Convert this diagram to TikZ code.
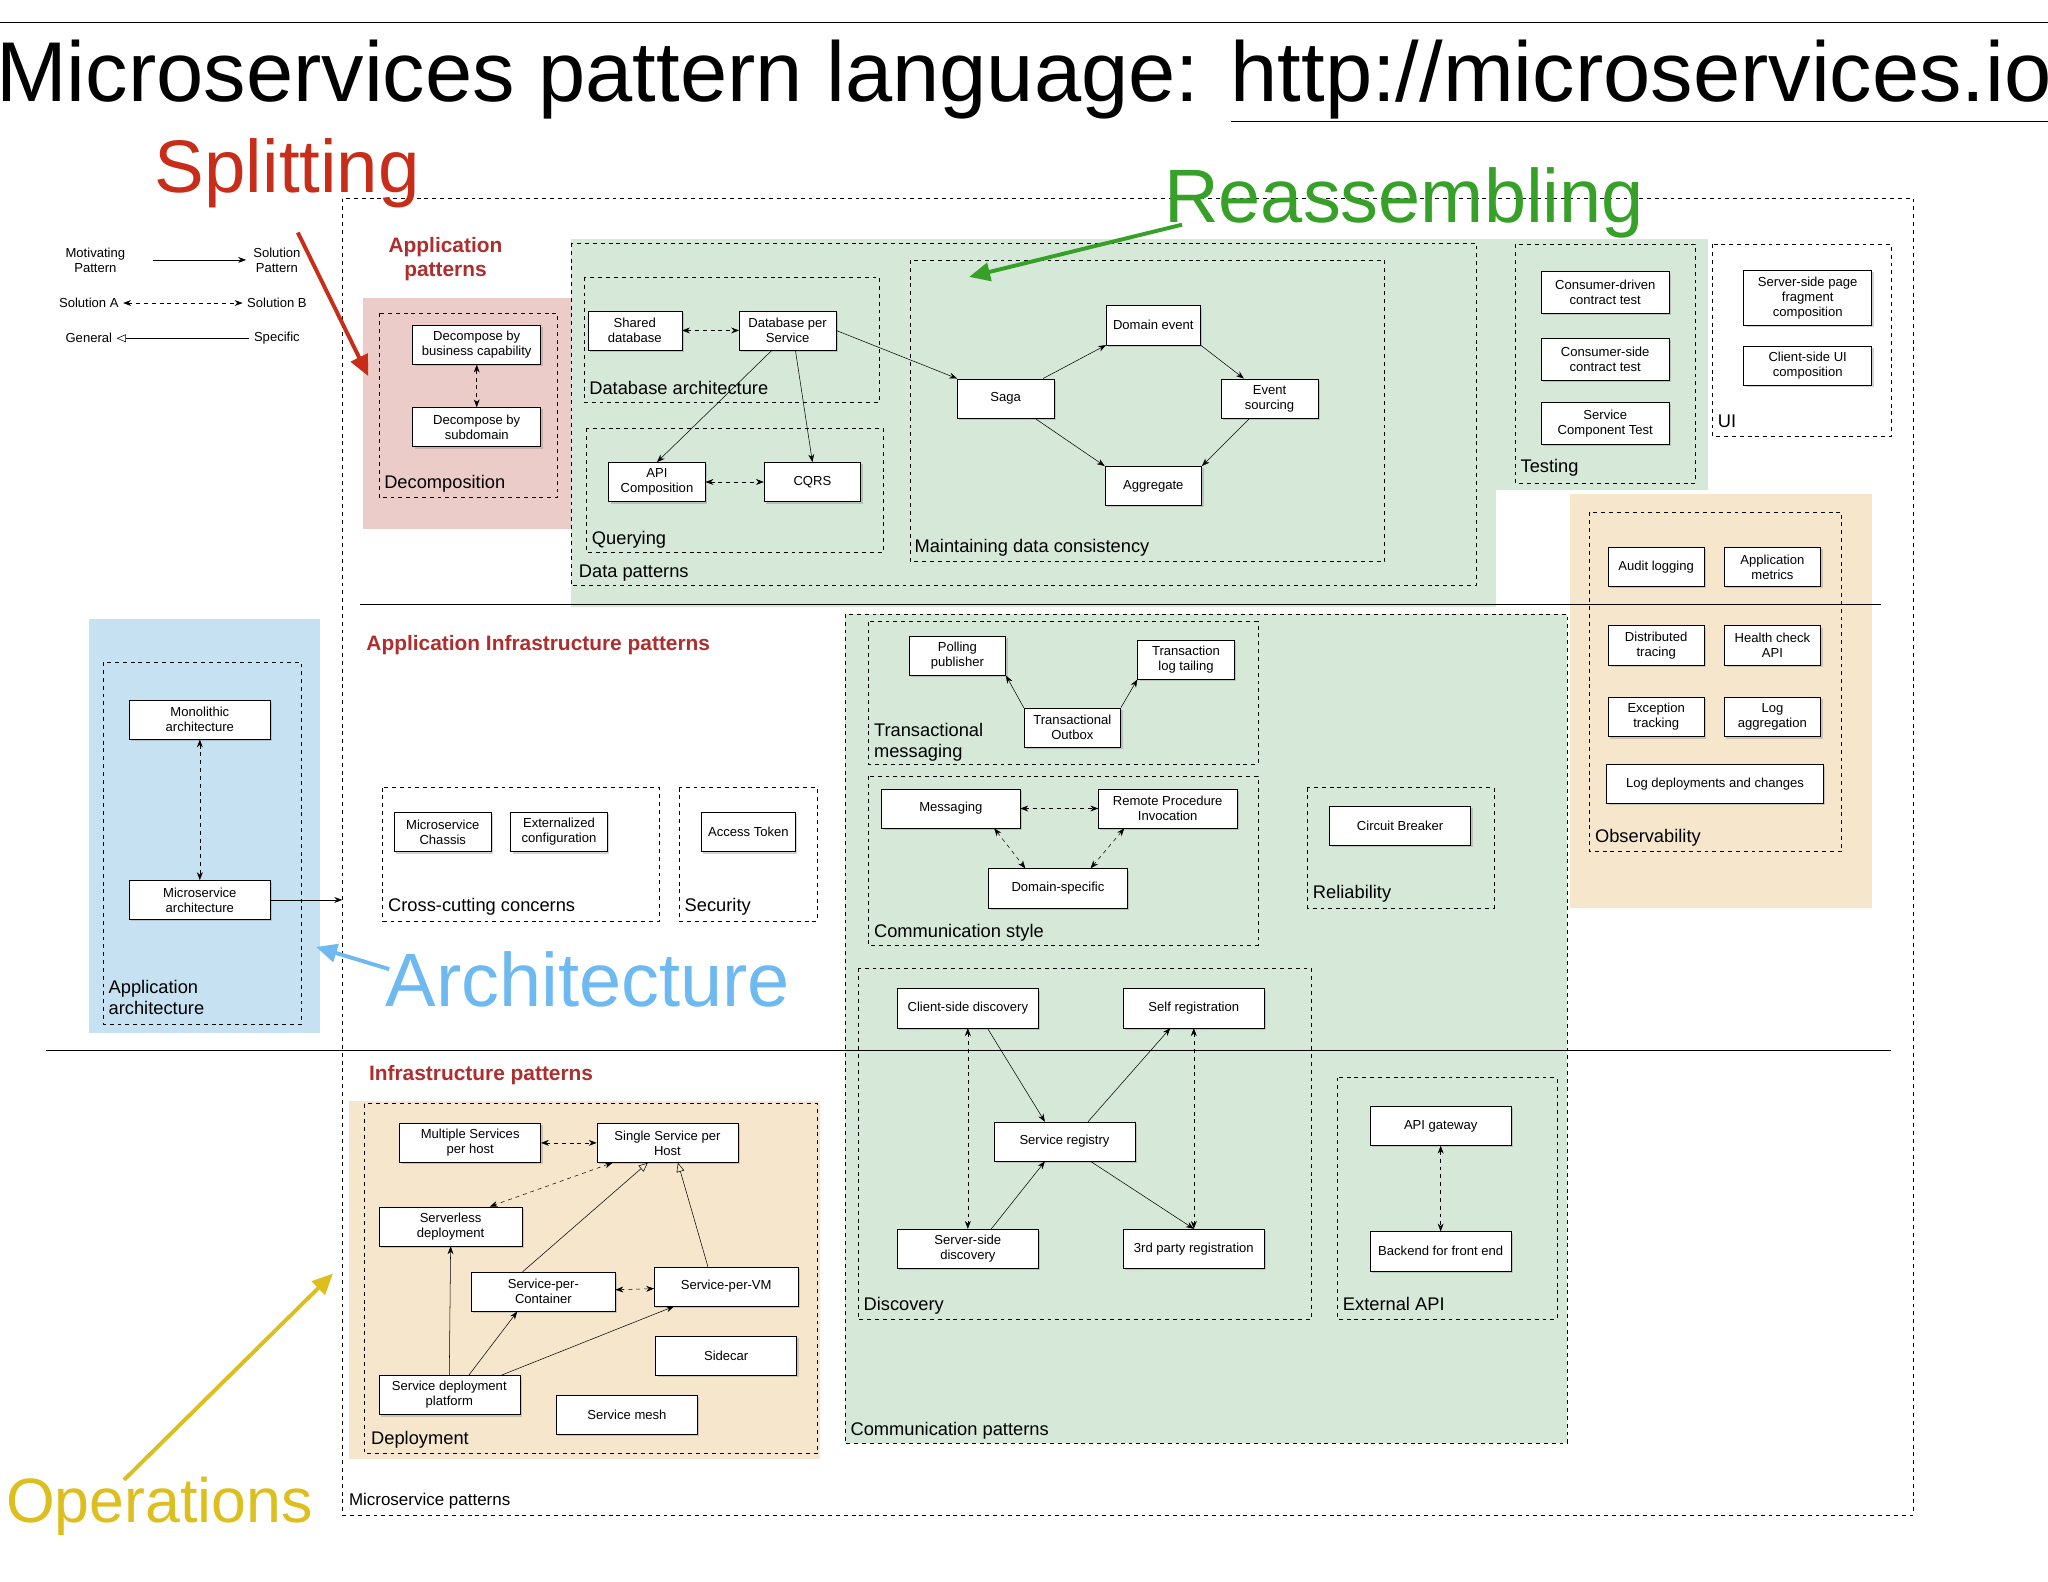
\documentclass[tikz,border=0pt]{standalone}
\usepackage{fontspec}
\setmainfont{Liberation Sans}
\usetikzlibrary{arrows.meta,shadows}
\definecolor{splitred}{RGB}{200,45,25}
\definecolor{reagreen}{RGB}{55,160,40}
\definecolor{archblue}{RGB}{110,185,240}
\definecolor{opsyellow}{RGB}{220,190,30}
\definecolor{pinkbg}{RGB}{236,204,200}
\definecolor{greenbg}{RGB}{214,232,216}
\definecolor{bluebg}{RGB}{198,225,242}
\definecolor{sandbg}{RGB}{246,231,204}
\definecolor{headred}{RGB}{175,45,45}

\begin{document}
\begin{tikzpicture}[x=1pt, y=-1pt, >={Stealth[length=6pt,width=4.5pt]}]
		\tikzset{
			pat/.style={draw, fill=white, align=center, inner sep=2pt, minimum width=74, minimum height=30,
				font=\fontsize{10}{11.5}\selectfont, drop shadow={opacity=0.35, shadow xshift=1.5pt, shadow yshift=-1.5pt}},
			grp/.style={draw, dashed, thin},
			glabel/.style={anchor=base west, inner sep=1pt, font=\fontsize{14}{16}\selectfont, align=left},
			head/.style={anchor=base west, font=\fontsize{16}{19}\selectfont\bfseries, text=headred, align=center},
			leg/.style={font=\fontsize{10}{11.5}\selectfont, align=center},
			big/.style={font=\fontsize{60}{64}\selectfont},
			alt/.style={<->, dashed},
			gen/.style={-{Triangle[open,length=7pt,width=6pt]}}
		}
		\useasboundingbox (0,0) rectangle (1568,1211);
		
		% Titel
		\draw (0,17) -- (1568,17);
		\node[font=\fontsize{65}{69}\selectfont] (title) at (784,62) {Microservices pattern language: \underline{http://microservices.io}};
		
		% Hintergruende
		\fill[pinkbg] (278,228) rectangle (437,405);
		\fill[greenbg] (437,183) rectangle (1308,375);
		\fill[greenbg] (437,375) rectangle (1145,465);
		\fill[sandbg] (1202,378) rectangle (1433,695);
		\fill[greenbg] (647,470) rectangle (1200,1105);
		\fill[bluebg] (68,474) rectangle (245,791);
		\fill[sandbg] (267,843) rectangle (628,1117);
		
		% Rahmen
		\draw[grp] (262,152) rectangle (1465,1160);
		\draw (276,463) -- (1440,463);
		\draw (35,804) -- (1448,804);
		\node[glabel, font=\fontsize{13}{15}\selectfont] (lblms) at (266,1153) {Microservice patterns};
		
		% Legende
		\node[leg] (motiv) at (73,199) {Motivating\\Pattern};
		\node[leg] (solp) at (212,199) {Solution\\Pattern};
		\node[leg] (solA) at (68,232) {Solution A};
		\node[leg] (solB) at (212,232) {Solution B};
		\node[leg] (general) at (68,259) {General};
		\node[leg] (specific) at (212,259) {Specific};
		\draw[->] (motiv.east) ++(18,0) -- ([xshift=-2]solp.west);
		\draw[alt] (solA.east) -- (solB.west);
		\draw[gen] (specific.west) -- (general.east);
		
		% Application patterns
		\node[head] (lblapp) at (294,212) {Application\\patterns};
		\draw[grp] (290,240) rectangle (427,381);
		\node[glabel] (lbldec) at (293,374) {Decomposition};
		\node[pat, minimum width=98] (dbc) at (365,264) {Decompose by\\business capability};
		\node[pat, minimum width=98] (dsd) at (365,327) {Decompose by\\subdomain};
		\draw[alt] (dbc) -- (dsd);
		
		% Data patterns
		\draw[grp] (437,186) rectangle (1130,448);
		\node[glabel] (lbldata) at (442,442) {Data patterns};
		\draw[grp] (447,212) rectangle (673,308);
		\node[glabel] (lbldba) at (450,302) {Database architecture};
		\node[pat, minimum width=72] (shdb) at (486,253) {Shared\\database};
		\node[pat] (dbps) at (603,253) {Database per\\Service};
		\draw[alt] (shdb) -- (dbps);
		\draw[grp] (449,328) rectangle (676,423);
		\node[glabel] (lblquery) at (452,417) {Querying};
		\node[pat] (apic) at (503,369) {API\\Composition};
		\node[pat] (cqrs) at (622,369) {CQRS};
		\draw[alt] (apic) -- (cqrs);
		\draw[->] (dbps.south) ++(-12,0) -- (apic.north);
		\draw[->] (dbps.south) ++(6,0) -- (cqrs.north);
		\draw[grp] (697,199) rectangle (1060,430);
		\node[glabel] (lblmdc) at (699,423) {Maintaining data consistency};
		\node[pat, minimum width=72] (devt) at (883,249) {Domain event};
		\node[pat] (saga) at (770,305) {Saga};
		\node[pat] (evsrc) at (972,305) {Event\\sourcing};
		\node[pat] (aggr) at (883,372) {Aggregate};
		\draw[->] (dbps.east) -- (saga.north west);
		\draw[->] (saga) -- (devt.south west);
		\draw[->] (devt.south east) -- (evsrc);
		\draw[->] (saga) -- (aggr.north west);
		\draw[->] (evsrc) -- (aggr.north east);
		
		% Testing und UI
		\draw[grp] (1160,187) rectangle (1298,370);
		\node[glabel] (lbltest) at (1163,362) {Testing};
		\node[pat, minimum width=98, minimum height=32] (cdct) at (1229,224) {Consumer-driven\\contract test};
		\node[pat, minimum width=98, minimum height=32] (csct) at (1229,275) {Consumer-side\\contract test};
		\node[pat, minimum width=98, minimum height=32] (sct) at (1229,324) {Service\\Component Test};
		\draw[grp] (1311,187) rectangle (1448,334);
		\node[glabel] (lblui) at (1314,327) {UI};
		\node[pat, minimum width=98, minimum height=42] (sspf) at (1384,228) {Server-side page\\fragment\\composition};
		\node[pat, minimum width=98] (csui) at (1384,280) {Client-side  UI\\composition};
		
		% Observability
		\draw[grp] (1217,392) rectangle (1410,652);
		\node[glabel] (lblobs) at (1220,645) {Observability};
		\node[pat] (audit) at (1268,434) {Audit logging};
		\node[pat] (appm) at (1357,434) {Application\\metrics};
		\node[pat] (dtrace) at (1268,494) {Distributed\\tracing};
		\node[pat] (health) at (1357,494) {Health check\\API};
		\node[pat] (exct) at (1268,549) {Exception\\tracking};
		\node[pat] (logagg) at (1357,549) {Log\\aggregation};
		\node[pat, minimum width=166] (logdep) at (1313,600) {Log deployments and changes};
		
		% Application Infrastructure patterns
		\node[head] (lblinfra) at (277,498) {Application Infrastructure patterns};
		\draw[grp] (293,603) rectangle (505,705);
		\node[glabel] (lblcc) at (296,698) {Cross-cutting concerns};
		\node[pat] (chassis) at (339,637) {Microservice\\Chassis};
		\node[pat] (extcfg) at (428,637) {Externalized\\configuration};
		\draw[grp] (520,603) rectangle (626,705);
		\node[glabel] (lblsec) at (523,698) {Security};
		\node[pat, minimum width=72] (token) at (573,637) {Access Token};
		
		% Communication patterns
		\draw[grp] (647,470) rectangle (1200,1105);
		\node[glabel] (lblcomm) at (650,1099) {Communication patterns};
		\draw[grp] (665,476) rectangle (963,585);
		\node[glabel] (lbltm) at (668,580) {Transactional\\messaging};
		\node[pat] (poll) at (733,502) {Polling\\publisher};
		\node[pat] (tlt) at (908,505) {Transaction\\log tailing};
		\node[pat] (outbox) at (821,557) {Transactional\\Outbox};
		\draw[->] (outbox.north west) -- (poll.south east);
		\draw[->] (outbox.north east) -- (tlt.south west);
		\draw[grp] (665,594) rectangle (963,724);
		\node[glabel] (lblcs) at (668,718) {Communication style};
		\node[pat, minimum width=106] (msg) at (728,619) {Messaging};
		\node[pat, minimum width=106] (rpi) at (894,619) {Remote Procedure\\Invocation};
		\node[pat, minimum width=106] (dspec) at (810,680) {Domain-specific};
		\draw[alt] (msg) -- (rpi);
		\draw[alt] (msg.south east) ++(-20,0) -- ([xshift=-25]dspec.north);
		\draw[alt] (rpi.south west) ++(20,0) -- ([xshift=25]dspec.north);
		\draw[grp] (1001,603) rectangle (1144,695);
		\node[glabel] (lblrel) at (1004,688) {Reliability};
		\node[pat, minimum width=108] (cbreak) at (1072,632) {Circuit Breaker};
		
		% Discovery
		\draw[grp] (657,741) rectangle (1004,1010);
		\node[glabel] (lbldisc) at (660,1003) {Discovery};
		\node[pat, minimum width=108] (csd) at (741,772) {Client-side discovery};
		\node[pat, minimum width=108] (selfreg) at (914,772) {Self registration};
		\node[pat, minimum width=108] (sreg) at (815,874) {Service registry};
		\node[pat, minimum width=108] (ssd) at (741,956) {Server-side\\discovery};
		\node[pat, minimum width=108] (tpreg) at (914,956) {3rd party registration};
		\draw[->] ([xshift=15]csd.south) -- ([xshift=-15]sreg.north);
		\draw[->] ([xshift=18]sreg.north) -- ([xshift=-18]selfreg.south);
		\draw[->] ([xshift=18]ssd.north) -- ([xshift=-15]sreg.south);
		\draw[->] ([xshift=20]sreg.south) -- ([xshift=0]tpreg.north);
		\draw[alt] (csd) -- (ssd);
		\draw[alt] (selfreg) -- (tpreg);
		
		% External API
		\draw[grp] (1024,825) rectangle (1192,1010);
		\node[glabel] (lblext) at (1027,1003) {External API};
		\node[pat, minimum width=108] (apigw) at (1103,862) {API gateway};
		\node[pat, minimum width=108] (bff) at (1103,958) {Backend for front end};
		\draw[alt] (apigw) -- (bff);
		
		% Application architecture
		\draw[grp] (79,507) rectangle (231,784);
		\node[glabel] (lblarch) at (82,777) {Application\\architecture};
		\node[pat, minimum width=108] (mono) at (153,551) {Monolithic\\architecture};
		\node[pat, minimum width=108] (msarch) at (153,689) {Microservice\\architecture};
		\draw[alt] (mono) -- (msarch);
		\coordinate (msentry) at (262,689);
		\draw[->] (msarch) -- (msentry);
		
		% Infrastructure patterns / Deployment
		\node[head] (lblinf) at (279,827) {Infrastructure patterns};
		\draw[grp] (279,845) rectangle (626,1113);
		\node[glabel] (lbldep) at (283,1106) {Deployment};
		\node[pat, minimum width=108] (multi) at (360,875) {Multiple Services\\per host};
		\node[pat, minimum width=108] (single) at (511,875) {Single Service per\\Host};
		\node[pat, minimum width=110] (sless) at (345,939) {Serverless\\deployment};
		\node[pat, minimum width=110] (spc) at (416,989) {Service-per-\\Container};
		\node[pat, minimum width=110] (spvm) at (556,985) {Service-per-VM};
		\node[pat, minimum width=108] (sidecar) at (556,1038) {Sidecar};
		\node[pat, minimum width=108] (sdp) at (344,1068) {Service deployment\\platform};
		\node[pat, minimum width=108] (mesh) at (480,1083) {Service mesh};
		\draw[alt] (multi) -- (single);
		\draw[alt] ([xshift=-42]single.south) -- ([xshift=30]sless.north);
		\draw[gen] ([xshift=-16]spc.north) -- ([xshift=-15]single.south);
		\draw[gen] ([xshift=-14]spvm.north) -- ([xshift=8]single.south);
		\draw[alt] (spc) -- (spvm);
		\draw[->] (sdp.north) -- (sless.south);
		\draw[->] ([xshift=15]sdp.north) -- ([xshift=-20]spc.south);
		\draw[->] ([xshift=40]sdp.north) -- ([xshift=-40]spvm.south);
		
		% grosse Beschriftungen
		\node[big, text=splitred, font=\fontsize{57}{60}\selectfont] (split) at (220,133) {Splitting};
		\coordinate (splitend) at (282,288);
		\draw[splitred, line width=3pt, -{Triangle[length=16pt,width=14pt]}] (228,178) -- (splitend);
		\node[big, text=reagreen, font=\fontsize{58}{62}\selectfont] (reass) at (1075,155) {Reassembling};
		\coordinate (reaend) at (742,212);
		\draw[reagreen, line width=3pt, -{Triangle[length=16pt,width=14pt]}] (905,172) -- (reaend);
		\node[big, text=archblue, font=\fontsize{58}{62}\selectfont] (archi) at (450,750) {Architecture};
		\coordinate (archend) at (242,725);
		\draw[archblue, line width=3pt, -{Triangle[length=16pt,width=14pt]}] (298,742) -- (archend);
		\node[big, text=opsyellow, font=\fontsize{48}{52}\selectfont] (ops) at (122,1153) {Operations};
		\coordinate (opsend) at (255,975);
		\draw[opsyellow, line width=3pt, -{Triangle[length=16pt,width=14pt]}] (95,1133) -- (opsend);
		
	\end{tikzpicture}
\end{document}
